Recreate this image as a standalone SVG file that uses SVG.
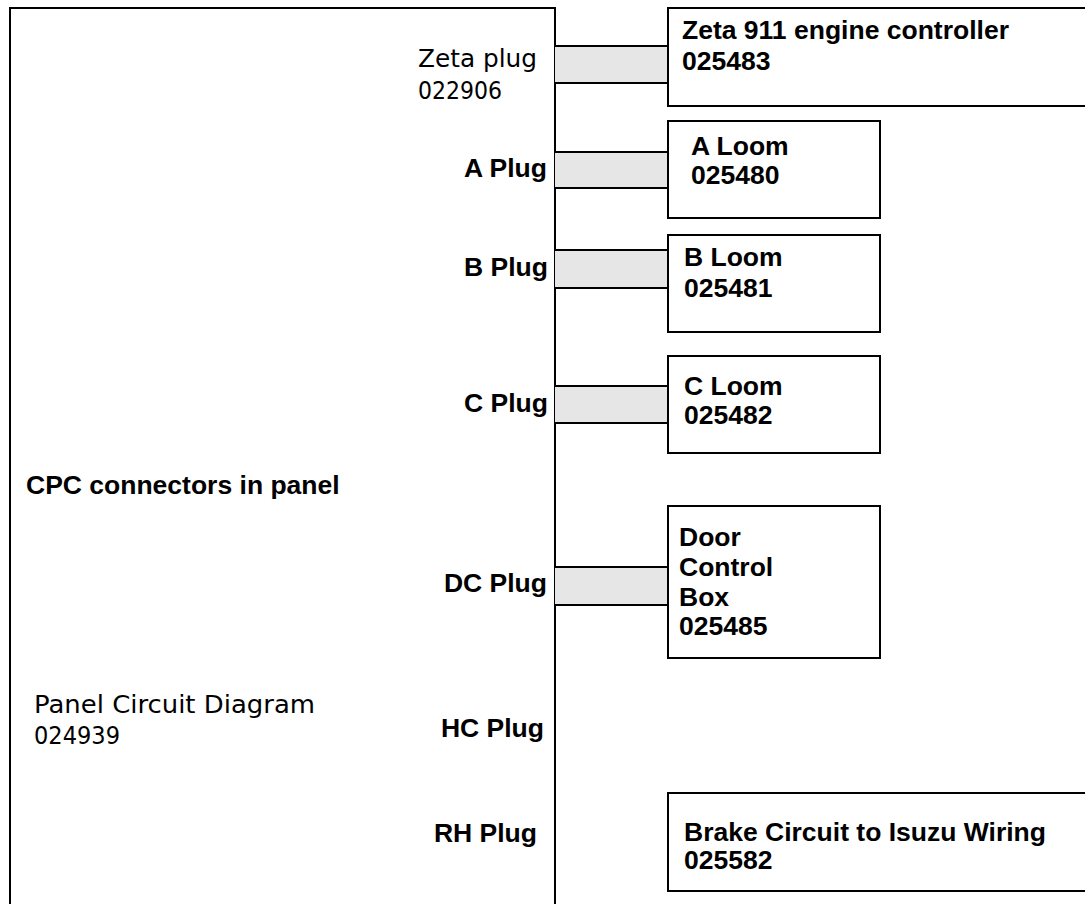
<svg xmlns="http://www.w3.org/2000/svg" width="1085" height="904" viewBox="0 0 1085 904">
<style>
.ln{fill:none;stroke:#000;stroke-width:2}
.box{fill:#fff;stroke:#000;stroke-width:2}
.plug{fill:#e6e6e6;stroke:none}
.b{font-family:"Liberation Sans",Arial,sans-serif;font-weight:bold;font-size:26.5px;fill:#000}
.l{font-family:"DejaVu Sans","Liberation Sans",sans-serif;font-size:24px;fill:#000}
.r{text-anchor:end}
</style>
<rect width="1085" height="904" fill="#fff"/>
<g id="panel">
<path class="ln" d="M10,904 V8 H555 V904"/>
<text class="b" x="26" y="494">CPC connectors in panel</text>
<text class="l" x="34" y="713" textLength="281" lengthAdjust="spacingAndGlyphs">Panel Circuit Diagram</text>
<text class="l" x="34" y="744" textLength="86" lengthAdjust="spacingAndGlyphs">024939</text>
</g>
<g id="connectors">
<g id="zeta-conn"><rect class="plug" x="555" y="46" width="113" height="37"/><path class="ln" d="M555,46 H668 M555,83 H668"/></g>
<g id="a-conn"><rect class="plug" x="555" y="152" width="113" height="36"/><path class="ln" d="M555,152 H668 M555,188 H668"/></g>
<g id="b-conn"><rect class="plug" x="555" y="250" width="113" height="38"/><path class="ln" d="M555,250 H668 M555,288 H668"/></g>
<g id="c-conn"><rect class="plug" x="555" y="386" width="113" height="37"/><path class="ln" d="M555,386 H668 M555,423 H668"/></g>
<g id="dc-conn"><rect class="plug" x="555" y="567" width="113" height="38"/><path class="ln" d="M555,567 H668 M555,605 H668"/></g>
</g>
<g id="zeta-plug"><text class="l" x="418" y="67" textLength="119" lengthAdjust="spacingAndGlyphs">Zeta plug</text><text class="l" x="418" y="99" textLength="84" lengthAdjust="spacingAndGlyphs">022906</text></g>
<g id="a-plug"><text class="b r" x="547" y="177">A Plug</text></g>
<g id="b-plug"><text class="b r" x="548" y="276">B Plug</text></g>
<g id="c-plug"><text class="b r" x="548" y="412">C Plug</text></g>
<g id="dc-plug"><text class="b r" x="547" y="592">DC Plug</text></g>
<g id="hc-plug"><text class="b r" x="544" y="737">HC Plug</text></g>
<g id="rh-plug"><text class="b r" x="537" y="842">RH Plug</text></g>
<g id="zeta-ctrl"><rect class="box" x="668" y="8" width="430" height="98"/><text class="b" x="682" y="39">Zeta 911 engine controller</text><text class="b" x="682" y="70">025483</text></g>
<g id="a-loom"><rect class="box" x="668" y="121" width="212" height="97"/><text class="b" x="691" y="155">A Loom</text><text class="b" x="691" y="184">025480</text></g>
<g id="b-loom"><rect class="box" x="668" y="235" width="212" height="97"/><text class="b" x="684" y="266">B Loom</text><text class="b" x="684" y="297">025481</text></g>
<g id="c-loom"><rect class="box" x="668" y="356" width="212" height="97"/><text class="b" x="684" y="395">C Loom</text><text class="b" x="684" y="424">025482</text></g>
<g id="door-box"><rect class="box" x="668" y="506" width="212" height="152"/><text class="b" x="679" y="546">Door</text><text class="b" x="679" y="576">Control</text><text class="b" x="679" y="606">Box</text><text class="b" x="679" y="635">025485</text></g>
<g id="brake"><rect class="box" x="668" y="793" width="430" height="98"/><text class="b" x="684" y="841">Brake Circuit to Isuzu Wiring</text><text class="b" x="684" y="869">025582</text></g>
</svg>
